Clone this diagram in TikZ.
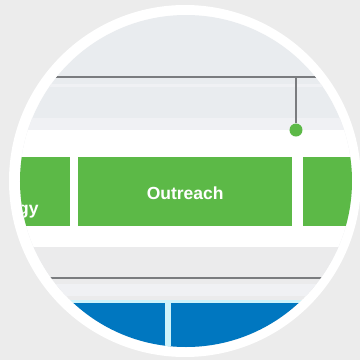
\documentclass[tikz,border=0pt]{standalone}
\usepackage{fontspec}
\setmainfont{Liberation Sans}
\definecolor{pagebg}{RGB}{236,236,236}
\definecolor{panel}{RGB}{233,236,239}
\definecolor{paleband}{RGB}{240,241,244}
\definecolor{grn}{RGB}{92,185,71}
\definecolor{rulegray}{RGB}{122,124,127}
\definecolor{lowband}{RGB}{235,235,236}
\definecolor{cyanline}{RGB}{205,243,251}
\definecolor{blu}{RGB}{0,119,192}
\tikzset{
  greenbox/.style={fill=grn, draw=none, inner sep=0pt, anchor=north west},
  rulestyle/.style={draw=rulegray, line width=2.8pt},
  labeltext/.style={text=white, font=\bfseries\fontsize{17.5}{20}\selectfont},
}
\begin{document}
\begin{tikzpicture}[x=1pt,y=-1pt]
\useasboundingbox (0,0) rectangle (360,360);
\fill[pagebg] (0,0) rectangle (360,360);
\fill[white] (185,181) circle[radius=176];
\begin{scope}
\clip (186,181) circle[radius=166];
\fill[panel] (0,0) rectangle (360,360);
\fill[paleband] (0,84) rectangle (360,87);
\fill[paleband] (0,118) rectangle (360,130);
\fill[white] (0,130) rectangle (360,247);
% green boxes
\node[greenbox, minimum width=100pt, minimum height=69pt] (boxL) at (-30,157) {};
\node[greenbox, minimum width=214pt, minimum height=69pt] (boxM) at (78,157) {};
\node[greenbox, minimum width=80pt, minimum height=69pt] (boxR) at (303,157) {};
\node[labeltext] (outreach) at ([yshift=-2pt]boxM.center) {Outreach};
\node[labeltext, anchor=base east] (leftlabel) at (42,214) {Technology};
\fill[lowband] (0,247) rectangle (360,302);
\fill[paleband] (0,284) rectangle (360,296);
\coordinate (ruleTL) at (0,77);
\coordinate (ruleTR) at (360,77);
\draw[rulestyle] (ruleTL) -- (ruleTR);
\coordinate (ruleBL) at (0,278);
\coordinate (ruleBR) at (360,278);
\draw[rulestyle] (ruleBL) -- (ruleBR);
\fill[cyanline] (0,300) rectangle (360,303);
\fill[blu] (0,303) rectangle (360,360);
\fill[cyanline] (165,300) rectangle (171,360);
% connector with dot
\node[circle, fill=grn, minimum size=13pt, inner sep=0pt] (dot) at (296,130) {};
\coordinate (drop) at (296,77);
\draw[draw=rulegray, line width=2.6pt] (drop) -- (dot.north);
\end{scope}
\end{tikzpicture}
\end{document}
